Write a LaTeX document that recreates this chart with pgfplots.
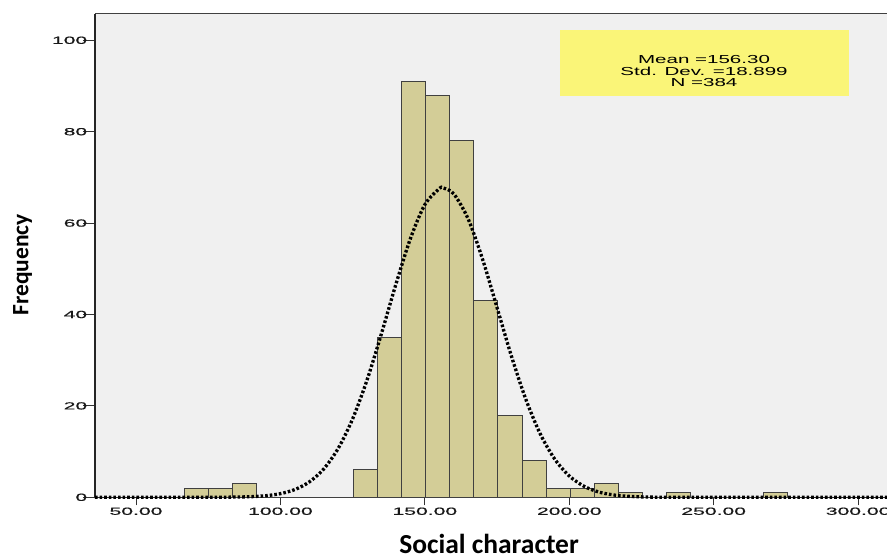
\documentclass[border=0pt]{standalone}
\usepackage{pgfplots}
\pgfplotsset{compat=1.18}
\usepackage{fontspec}
\setmainfont{Liberation Sans}
\newfontfamily\carlito{Carlito}
\newfontfamily\tickfont[FakeStretch=2.05,FakeBold=0.6]{Liberation Sans}
\newfontfamily\boxfont[FakeStretch=1.77]{Liberation Sans}
\definecolor{barfill}{RGB}{211,205,151}
\definecolor{bgray}{RGB}{240,240,240}
\definecolor{boxy}{RGB}{250,245,120}
\begin{document}
\begin{tikzpicture}
\begin{axis}[name=ax, scale only axis, width=792pt, height=483.3pt,
 xmin=35.8, xmax=310, ymin=0, ymax=105.75,
 axis x line*=bottom, axis y line*=left,
 axis line style={black!85, line width=1.2pt},
 tick align=outside,
 xtick style={black!80, line width=1pt, /pgfplots/major tick length=8pt},
 ytick style={black!80, line width=1pt, /pgfplots/major tick length=12pt},
 xtick={50,100,150,200,250,300},
 xticklabels={50.00,100.00,150.00,200.00,250.00,300.00},
 ytick={0,20,40,60,80,100},
 minor tick num=0,
 /pgf/number format/assume math mode=true,
 ticklabel style={font=\tickfont\fontsize{10.3}{12}\selectfont, text=black!90},
 xticklabel style={yshift=-2.5pt},
 axis background/.style={fill=bgray},
 xlabel={Social character}, ylabel={Frequency},
 xlabel style={at={(axis description cs:0.4975,-0.1173)}, anchor=base, inner sep=0pt, font=\carlito\bfseries\fontsize{27.5}{30}\selectfont},
 ylabel style={at={(axis description cs:-0.0842,0.4807)}, anchor=base, inner sep=0pt, font=\carlito\bfseries\fontsize{23.5}{26}\selectfont},
 clip=false,
]
\addplot[ybar interval, fill=barfill, draw=black!75, line width=0.8pt] coordinates {
(66.70,2) (75.05,2) (83.40,3) (91.75,0) (100.10,0) (108.45,0) (116.80,0)
(125.15,6) (133.50,35) (141.85,91) (150.20,88) (158.55,78) (166.90,43)
(175.25,18) (183.60,8) (191.95,2) (200.30,2) (208.65,3) (217.00,1)
(225.35,0) (233.70,1) (242.05,0) (250.40,0) (258.75,0) (267.10,1) (275.45,1)};
\addplot[smooth, black, line width=3.3pt, dash pattern=on 2.6pt off 2pt] coordinates {
(35.8,0) (60,0) (70,0) (80,0.02) (85,0.06) (90,0.14) (95,0.35) (100,0.80)
(105,1.70) (110,3.37) (115,6.21) (120,10.70) (125,17.17) (130,25.70)
(135,35.87) (140,46.67) (145,56.61) (150,64.04) (155,67.53) (156.3,67.69)
(160,66.40) (165,60.89) (170,52.05) (175,41.49) (180,30.83) (185,21.37)
(190,13.81) (195,8.32) (200,4.67) (205,2.45) (210,1.19) (215,0.54)
(220,0.23) (225,0.09) (230,0.03) (240,0) (260,0) (280,0) (310,0)};
\fill[boxy] (rel axis cs:0.587,0.830) rectangle (rel axis cs:0.952,0.967);
\node[align=center, font=\boxfont\fontsize{11.6}{11.7}\selectfont, inner sep=0pt] at (rel axis cs:0.769,0.882) {Mean =156.30\\Std. Dev. =18.899\\N =384};
\draw[black!75, line width=1pt] (rel axis cs:0,1) -- (rel axis cs:1,1);
\end{axis}
\pgfresetboundingbox
\path[use as bounding box] ([shift={(-95pt,-61.7pt)}]ax.south west) rectangle ([shift={(0pt,14pt)}]ax.north east);
\end{tikzpicture}
\end{document}
